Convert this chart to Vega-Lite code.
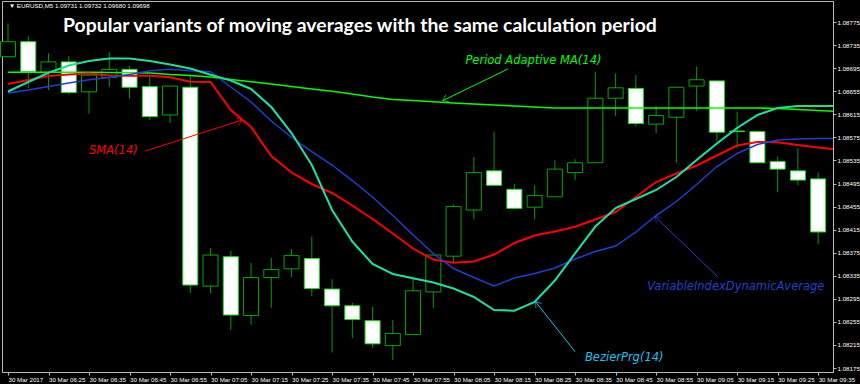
{
  "$schema": "https://vega.github.io/schema/vega-lite/v6.json",
  "width": 831,
  "height": 371,
  "autosize": {"type": "none"},
  "padding": {"left": 2, "top": 1, "right": 27, "bottom": 12},
  "background": "#000000",
  "title": {
    "text": "Popular variants of moving averages with the same calculation period",
    "anchor": "start",
    "frame": "group",
    "dx": 61,
    "offset": -50,
    "baseline": "alphabetic",
    "color": "#ffffff",
    "font": "Lato",
    "fontSize": 19.4,
    "fontWeight": "bold"
  },
  "config": {
    "view": {"stroke": "#b8b8b8", "strokeWidth": 1, "fill": "#000000"},
    "axis": {
      "domainColor": "#b8b8b8",
      "tickColor": "#b8b8b8",
      "labelColor": "#ffffff",
      "labelFont": "Liberation Sans",
      "labelFontSize": 6.2,
      "grid": false,
      "title": null
    }
  },
  "datasets": {
    "candles": [
      {"t": "2017-03-30 06:15", "o": 1.08715, "h": 1.08773, "l": 1.08714, "c": 1.08741},
      {"t": "2017-03-30 06:20", "o": 1.08741, "h": 1.08751, "l": 1.08661, "c": 1.08689},
      {"t": "2017-03-30 06:25", "o": 1.08688, "h": 1.08721, "l": 1.08657, "c": 1.08706},
      {"t": "2017-03-30 06:30", "o": 1.08706, "h": 1.08716, "l": 1.08650, "c": 1.08653},
      {"t": "2017-03-30 06:35", "o": 1.08654, "h": 1.08688, "l": 1.08616, "c": 1.08683},
      {"t": "2017-03-30 06:40", "o": 1.08679, "h": 1.08723, "l": 1.08663, "c": 1.08693},
      {"t": "2017-03-30 06:45", "o": 1.08693, "h": 1.08699, "l": 1.08642, "c": 1.08662},
      {"t": "2017-03-30 06:50", "o": 1.08663, "h": 1.08680, "l": 1.08605, "c": 1.08611},
      {"t": "2017-03-30 06:55", "o": 1.08614, "h": 1.08664, "l": 1.08600, "c": 1.08664},
      {"t": "2017-03-30 07:00", "o": 1.08662, "h": 1.08683, "l": 1.08305, "c": 1.08319},
      {"t": "2017-03-30 07:05", "o": 1.08317, "h": 1.08383, "l": 1.08305, "c": 1.08371},
      {"t": "2017-03-30 07:10", "o": 1.08368, "h": 1.08378, "l": 1.08241, "c": 1.08267},
      {"t": "2017-03-30 07:15", "o": 1.08266, "h": 1.08357, "l": 1.08250, "c": 1.08332},
      {"t": "2017-03-30 07:20", "o": 1.08332, "h": 1.08366, "l": 1.08279, "c": 1.08346},
      {"t": "2017-03-30 07:25", "o": 1.08347, "h": 1.08381, "l": 1.08333, "c": 1.08370},
      {"t": "2017-03-30 07:30", "o": 1.08365, "h": 1.08403, "l": 1.08300, "c": 1.08313},
      {"t": "2017-03-30 07:35", "o": 1.08312, "h": 1.08329, "l": 1.08202, "c": 1.08283},
      {"t": "2017-03-30 07:40", "o": 1.08283, "h": 1.08288, "l": 1.08227, "c": 1.08259},
      {"t": "2017-03-30 07:45", "o": 1.08257, "h": 1.08281, "l": 1.08210, "c": 1.08217},
      {"t": "2017-03-30 07:50", "o": 1.08214, "h": 1.08258, "l": 1.08189, "c": 1.08235},
      {"t": "2017-03-30 07:55", "o": 1.08233, "h": 1.08331, "l": 1.08233, "c": 1.08309},
      {"t": "2017-03-30 08:00", "o": 1.08307, "h": 1.08371, "l": 1.08279, "c": 1.08371},
      {"t": "2017-03-30 08:05", "o": 1.08369, "h": 1.08459, "l": 1.08359, "c": 1.08455},
      {"t": "2017-03-30 08:10", "o": 1.08449, "h": 1.08541, "l": 1.08433, "c": 1.08514},
      {"t": "2017-03-30 08:15", "o": 1.08517, "h": 1.08585, "l": 1.08492, "c": 1.08492},
      {"t": "2017-03-30 08:20", "o": 1.08485, "h": 1.08494, "l": 1.08452, "c": 1.08452},
      {"t": "2017-03-30 08:25", "o": 1.08454, "h": 1.08492, "l": 1.08433, "c": 1.08474},
      {"t": "2017-03-30 08:30", "o": 1.08472, "h": 1.08535, "l": 1.08472, "c": 1.08520},
      {"t": "2017-03-30 08:35", "o": 1.08514, "h": 1.08537, "l": 1.08501, "c": 1.08531},
      {"t": "2017-03-30 08:40", "o": 1.08531, "h": 1.08689, "l": 1.08531, "c": 1.08643},
      {"t": "2017-03-30 08:45", "o": 1.08643, "h": 1.08686, "l": 1.08612, "c": 1.08661},
      {"t": "2017-03-30 08:50", "o": 1.08660, "h": 1.08683, "l": 1.08594, "c": 1.08599},
      {"t": "2017-03-30 08:55", "o": 1.08598, "h": 1.08629, "l": 1.08582, "c": 1.08613},
      {"t": "2017-03-30 09:00", "o": 1.08610, "h": 1.08662, "l": 1.08531, "c": 1.08662},
      {"t": "2017-03-30 09:05", "o": 1.08664, "h": 1.08698, "l": 1.08621, "c": 1.08675},
      {"t": "2017-03-30 09:10", "o": 1.08673, "h": 1.08673, "l": 1.08568, "c": 1.08584},
      {"t": "2017-03-30 09:15", "o": 1.08586, "h": 1.08620, "l": 1.08556, "c": 1.08585},
      {"t": "2017-03-30 09:20", "o": 1.08585, "h": 1.08585, "l": 1.08531, "c": 1.08531},
      {"t": "2017-03-30 09:25", "o": 1.08533, "h": 1.08542, "l": 1.08480, "c": 1.08520},
      {"t": "2017-03-30 09:30", "o": 1.08517, "h": 1.08556, "l": 1.08492, "c": 1.08501},
      {"t": "2017-03-30 09:35", "o": 1.08503, "h": 1.08514, "l": 1.08390, "c": 1.08411}
    ],
    "ma": [
      {"t": "2017-03-30 06:15", "pama": 1.086879, "sma": 1.086676, "vidya": 1.086520, "bez": 1.086546},
      {"t": "2017-03-30 06:20", "pama": 1.086879, "sma": 1.086746, "vidya": 1.086572, "bez": 1.086711},
      {"t": "2017-03-30 06:25", "pama": 1.086879, "sma": 1.086815, "vidya": 1.086633, "bez": 1.086871},
      {"t": "2017-03-30 06:30", "pama": 1.086879, "sma": 1.086841, "vidya": 1.086694, "bez": 1.086997},
      {"t": "2017-03-30 06:35", "pama": 1.086879, "sma": 1.086858, "vidya": 1.086751, "bez": 1.087075},
      {"t": "2017-03-30 06:40", "pama": 1.086876, "sma": 1.086824, "vidya": 1.086789, "bez": 1.087120},
      {"t": "2017-03-30 06:45", "pama": 1.086872, "sma": 1.086820, "vidya": 1.086841, "bez": 1.087119},
      {"t": "2017-03-30 06:50", "pama": 1.086867, "sma": 1.086820, "vidya": 1.086905, "bez": 1.087075},
      {"t": "2017-03-30 06:55", "pama": 1.086841, "sma": 1.086793, "vidya": 1.086933, "bez": 1.087015},
      {"t": "2017-03-30 07:00", "pama": 1.086824, "sma": 1.086716, "vidya": 1.086907, "bez": 1.086945},
      {"t": "2017-03-30 07:05", "pama": 1.086798, "sma": 1.086711, "vidya": 1.086890, "bez": 1.086836},
      {"t": "2017-03-30 07:10", "pama": 1.086754, "sma": 1.086225, "vidya": 1.086624, "bez": 1.086737},
      {"t": "2017-03-30 07:15", "pama": 1.086716, "sma": 1.085930, "vidya": 1.086364, "bez": 1.086590},
      {"t": "2017-03-30 07:20", "pama": 1.086676, "sma": 1.085427, "vidya": 1.086035, "bez": 1.086277},
      {"t": "2017-03-30 07:25", "pama": 1.086633, "sma": 1.085141, "vidya": 1.085748, "bez": 1.085826},
      {"t": "2017-03-30 07:30", "pama": 1.086590, "sma": 1.084942, "vidya": 1.085505, "bez": 1.085271},
      {"t": "2017-03-30 07:35", "pama": 1.086550, "sma": 1.084786, "vidya": 1.085271, "bez": 1.084491},
      {"t": "2017-03-30 07:40", "pama": 1.086503, "sma": 1.084569, "vidya": 1.085002, "bez": 1.083944},
      {"t": "2017-03-30 07:45", "pama": 1.086451, "sma": 1.084335, "vidya": 1.084716, "bez": 1.083554},
      {"t": "2017-03-30 07:50", "pama": 1.086407, "sma": 1.084083, "vidya": 1.084395, "bez": 1.083381},
      {"t": "2017-03-30 07:55", "pama": 1.086390, "sma": 1.083823, "vidya": 1.084057, "bez": 1.083306},
      {"t": "2017-03-30 08:00", "pama": 1.086369, "sma": 1.083632, "vidya": 1.083736, "bez": 1.083233},
      {"t": "2017-03-30 08:05", "pama": 1.086347, "sma": 1.083577, "vidya": 1.083476, "bez": 1.083129},
      {"t": "2017-03-30 08:10", "pama": 1.086329, "sma": 1.083597, "vidya": 1.083320, "bez": 1.082982},
      {"t": "2017-03-30 08:15", "pama": 1.086312, "sma": 1.083719, "vidya": 1.083172, "bez": 1.082756},
      {"t": "2017-03-30 08:20", "pama": 1.086295, "sma": 1.083918, "vidya": 1.083311, "bez": 1.082744},
      {"t": "2017-03-30 08:25", "pama": 1.086277, "sma": 1.084048, "vidya": 1.083389, "bez": 1.082895},
      {"t": "2017-03-30 08:30", "pama": 1.086260, "sma": 1.084118, "vidya": 1.083485, "bez": 1.083268},
      {"t": "2017-03-30 08:35", "pama": 1.086260, "sma": 1.084201, "vidya": 1.083641, "bez": 1.083740},
      {"t": "2017-03-30 08:40", "pama": 1.086260, "sma": 1.084326, "vidya": 1.083771, "bez": 1.084204},
      {"t": "2017-03-30 08:45", "pama": 1.086260, "sma": 1.084456, "vidya": 1.083866, "bez": 1.084525},
      {"t": "2017-03-30 08:50", "pama": 1.086260, "sma": 1.084716, "vidya": 1.084109, "bez": 1.084682},
      {"t": "2017-03-30 08:55", "pama": 1.086260, "sma": 1.084976, "vidya": 1.084395, "bez": 1.084838},
      {"t": "2017-03-30 09:00", "pama": 1.086260, "sma": 1.085124, "vidya": 1.084638, "bez": 1.085063},
      {"t": "2017-03-30 09:05", "pama": 1.086260, "sma": 1.085263, "vidya": 1.084933, "bez": 1.085358},
      {"t": "2017-03-30 09:10", "pama": 1.086260, "sma": 1.085436, "vidya": 1.085245, "bez": 1.085644},
      {"t": "2017-03-30 09:15", "pama": 1.086260, "sma": 1.085610, "vidya": 1.085471, "bez": 1.085913},
      {"t": "2017-03-30 09:20", "pama": 1.086260, "sma": 1.085670, "vidya": 1.085627, "bez": 1.086139},
      {"t": "2017-03-30 09:25", "pama": 1.086251, "sma": 1.085665, "vidya": 1.085705, "bez": 1.086260},
      {"t": "2017-03-30 09:30", "pama": 1.086234, "sma": 1.085618, "vidya": 1.085722, "bez": 1.086295},
      {"t": "2017-03-30 09:35", "pama": 1.086217, "sma": 1.085575, "vidya": 1.085731, "bez": 1.086295},
      {"t": "2017-03-30 09:40", "pama": 1.086199, "sma": 1.085540, "vidya": 1.085731, "bez": 1.086295}
    ],
    "notes": [
      {"label": "Period Adaptive MA(14)", "t": "2017-03-30 08:07:55", "p": 1.087067},
      {"label": "SMA(14)", "t": "2017-03-30 06:35:00", "p": 1.085514},
      {"label": "VariableIndexDynamicAverage", "t": "2017-03-30 08:52:48", "p": 1.083155},
      {"label": "BezierPrg(14)", "t": "2017-03-30 08:37:26", "p": 1.0819235}
    ],
    "arrows": [
      {"label": "Period Adaptive MA(14)", "t": "2017-03-30 08:18:25", "p": 1.086937, "t2": "2017-03-30 08:02:19", "p2": 1.086387},
      {"label": "SMA(14)", "t": "2017-03-30 06:48:54", "p": 1.085514, "t2": "2017-03-30 07:12:48", "p2": 1.086052},
      {"label": "VariableIndexDynamicAverage", "t": "2017-03-30 09:10:22", "p": 1.083323, "t2": "2017-03-30 08:54:46", "p2": 1.084375},
      {"label": "BezierPrg(14)", "t": "2017-03-30 08:35:00", "p": 1.082033, "t2": "2017-03-30 08:25:14", "p2": 1.082900}
    ],
    "header": [
      {"text": "▼  EURUSD,M5  1.09731 1.09732 1.09680 1.09698", "t": "2017-03-30 06:15:15", "p": 1.088024}
    ]
  },
  "encoding": {
    "x": {
      "field": "t",
      "type": "temporal",
      "scale": {
        "domain": [
          {"year": 2017, "month": 3, "date": 30, "hours": 6, "minutes": 14, "seconds": 45},
          {"year": 2017, "month": 3, "date": 30, "hours": 9, "minutes": 37, "seconds": 26}
        ],
        "nice": false
      },
      "axis": {
        "orient": "bottom",
        "values": [
          {"year": 2017, "month": 3, "date": 30, "hours": 6, "minutes": 15},
          {"year": 2017, "month": 3, "date": 30, "hours": 6, "minutes": 25},
          {"year": 2017, "month": 3, "date": 30, "hours": 6, "minutes": 35},
          {"year": 2017, "month": 3, "date": 30, "hours": 6, "minutes": 45},
          {"year": 2017, "month": 3, "date": 30, "hours": 6, "minutes": 55},
          {"year": 2017, "month": 3, "date": 30, "hours": 7, "minutes": 5},
          {"year": 2017, "month": 3, "date": 30, "hours": 7, "minutes": 15},
          {"year": 2017, "month": 3, "date": 30, "hours": 7, "minutes": 25},
          {"year": 2017, "month": 3, "date": 30, "hours": 7, "minutes": 35},
          {"year": 2017, "month": 3, "date": 30, "hours": 7, "minutes": 45},
          {"year": 2017, "month": 3, "date": 30, "hours": 7, "minutes": 55},
          {"year": 2017, "month": 3, "date": 30, "hours": 8, "minutes": 5},
          {"year": 2017, "month": 3, "date": 30, "hours": 8, "minutes": 15},
          {"year": 2017, "month": 3, "date": 30, "hours": 8, "minutes": 25},
          {"year": 2017, "month": 3, "date": 30, "hours": 8, "minutes": 35},
          {"year": 2017, "month": 3, "date": 30, "hours": 8, "minutes": 45},
          {"year": 2017, "month": 3, "date": 30, "hours": 8, "minutes": 55},
          {"year": 2017, "month": 3, "date": 30, "hours": 9, "minutes": 5},
          {"year": 2017, "month": 3, "date": 30, "hours": 9, "minutes": 15},
          {"year": 2017, "month": 3, "date": 30, "hours": 9, "minutes": 25},
          {"year": 2017, "month": 3, "date": 30, "hours": 9, "minutes": 35}
        ],
        "labelExpr": "hours(datum.value) == 6 && minutes(datum.value) == 15 ? '30 Mar 2017' : timeFormat(datum.value, '%d %b %H:%M')",
        "labelAlign": "left",
        "labelBaseline": "top",
        "labelDx": 1,
        "labelPadding": 1,
        "tickSize": 3,
        "labelOverlap": false,
        "labelFlush": false,
        "labelBound": false
      }
    },
    "y": {
      "type": "quantitative",
      "scale": {"domain": [1.081681, 1.088116], "zero": false, "nice": false},
      "axis": {
        "orient": "right",
        "values": [1.08175, 1.08215, 1.08255, 1.08295, 1.08335, 1.08375, 1.08415, 1.08455, 1.08495, 1.08535, 1.08575, 1.08615, 1.08655, 1.08695, 1.08735, 1.08775],
        "format": ".5f",
        "tickSize": 3,
        "labelPadding": 1,
        "labelAlign": "left",
        "labelBaseline": "middle",
        "labelOverlap": false,
        "labelFlush": false,
        "labelBound": false
      }
    }
  },
  "layer": [
    {
      "data": {"name": "candles"},
      "mark": {"type": "rule", "color": "#009a00", "strokeWidth": 1},
      "encoding": {"y": {"field": "h"}, "y2": {"field": "l"}}
    },
    {
      "data": {"name": "candles"},
      "mark": {"type": "bar", "width": 15, "strokeWidth": 1},
      "encoding": {
        "y": {"field": "o"},
        "y2": {"field": "c"},
        "fill": {"condition": {"test": "datum.c < datum.o", "value": "#ffffff"}, "value": "#000000"},
        "stroke": {"condition": {"test": "datum.c < datum.o", "value": "#1ee01e"}, "value": "#00a800"}
      }
    },
    {
      "data": {"name": "ma"},
      "mark": {"type": "line", "color": "#00ff00", "strokeWidth": 1.6, "clip": true},
      "encoding": {"y": {"field": "pama"}}
    },
    {
      "data": {"name": "ma"},
      "mark": {"type": "line", "color": "#ff0000", "strokeWidth": 2, "clip": true},
      "encoding": {"y": {"field": "sma"}}
    },
    {
      "data": {"name": "ma"},
      "mark": {"type": "line", "color": "#1f3fcf", "strokeWidth": 1.5, "clip": true},
      "encoding": {"y": {"field": "vidya"}}
    },
    {
      "data": {"name": "ma"},
      "mark": {"type": "line", "color": "#2ee02e", "strokeWidth": 2, "clip": true},
      "encoding": {"y": {"field": "bez"}}
    },
    {
      "data": {"name": "ma"},
      "mark": {"type": "line", "color": "#10d8f0", "strokeWidth": 1.2, "clip": true},
      "encoding": {"y": {"field": "bez"}}
    },
    {
      "data": {"name": "arrows"},
      "mark": {"type": "rule", "strokeWidth": 1},
      "encoding": {
        "y": {"field": "p"},
        "x2": {"field": "t2"},
        "y2": {"field": "p2"},
        "color": {"field": "label", "type": "nominal", "legend": null,
          "scale": {"domain": ["Period Adaptive MA(14)", "SMA(14)", "VariableIndexDynamicAverage", "BezierPrg(14)"], "range": ["#00ff00", "#ff0000", "#2040c8", "#20c0f0"]}}
      }
    },
    {
      "data": {"name": "arrows"},
      "transform": [{"filter": "datum.label == 'Period Adaptive MA(14)'"}],
      "mark": {"type": "point", "shape": "M-1,-0.7L0,0L-1,0.7", "filled": false, "size": 110, "angle": 154.4, "strokeWidth": 1, "color": "#00ff00"},
      "encoding": {"x": {"field": "t2", "type": "temporal"}, "y": {"field": "p2"}}
    },
    {
      "data": {"name": "arrows"},
      "transform": [{"filter": "datum.label == 'SMA(14)'"}],
      "mark": {"type": "point", "shape": "M-1,-0.7L0,0L-1,0.7", "filled": false, "size": 110, "angle": 342.4, "strokeWidth": 1, "color": "#ff0000"},
      "encoding": {"x": {"field": "t2", "type": "temporal"}, "y": {"field": "p2"}}
    },
    {
      "data": {"name": "arrows"},
      "transform": [{"filter": "datum.label == 'VariableIndexDynamicAverage'"}],
      "mark": {"type": "point", "shape": "M-1,-0.7L0,0L-1,0.7", "filled": false, "size": 110, "angle": 223.4, "strokeWidth": 1, "color": "#2040c8"},
      "encoding": {"x": {"field": "t2", "type": "temporal"}, "y": {"field": "p2"}}
    },
    {
      "data": {"name": "arrows"},
      "transform": [{"filter": "datum.label == 'BezierPrg(14)'"}],
      "mark": {"type": "point", "shape": "M-1,-0.7L0,0L-1,0.7", "filled": false, "size": 110, "angle": 231.3, "strokeWidth": 1, "color": "#20c0f0"},
      "encoding": {"x": {"field": "t2", "type": "temporal"}, "y": {"field": "p2"}}
    },
    {
      "data": {"name": "notes"},
      "mark": {"type": "text", "align": "left", "baseline": "middle", "font": "DejaVu Sans", "fontSize": 11.5, "fontStyle": "italic"},
      "encoding": {
        "y": {"field": "p"},
        "text": {"field": "label"},
        "color": {"field": "label", "type": "nominal", "legend": null}
      }
    },
    {
      "data": {"name": "header"},
      "mark": {"type": "text", "align": "left", "baseline": "middle", "font": "Liberation Sans", "fontSize": 6.2, "color": "#ffffff"},
      "encoding": {
        "y": {"field": "p"},
        "text": {"field": "text"}
      }
    }
  ]
}
